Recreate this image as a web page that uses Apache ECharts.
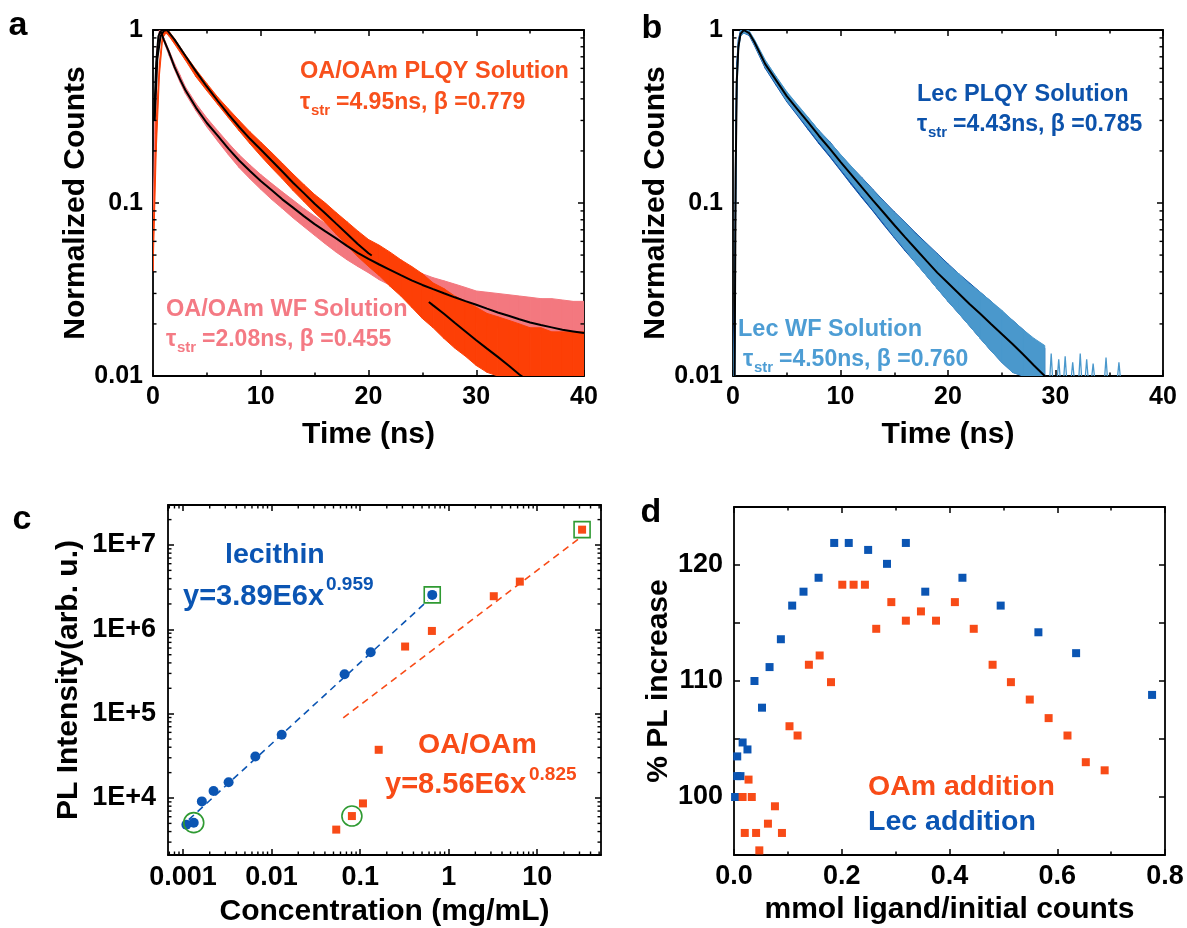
<!DOCTYPE html>
<html><head><meta charset="utf-8">
<script src="https://cdn.jsdelivr.net/npm/echarts@6/dist/echarts.min.js"></script>
<style>html,body{margin:0;padding:0;background:#fff}#c{width:1187px;height:928px}</style>
</head><body><div id="c"></div>
<script>
// ===== Panel a : OA/OAm (time in ns, normalized counts) =====
const aPlqyT  = [0,0.3,0.6,0.9,1.2,1.5,2,3,4,5,6,7,8,9,10,11,12,13,14,15,16,17,18,19,20,21,22,23,24,25,26,27,28,29,30,31,32,33,34,35,36,37,38,39,40];
const aPlqyHi = [0.06,0.3,0.65,0.96,1.0,0.98,0.89,0.72,0.59,0.49,0.41,0.35,0.30,0.258,0.225,0.196,0.17,0.147,0.128,0.112,0.100,0.088,0.078,0.069,0.0615,0.057,0.052,0.047,0.043,0.039,0.0345,0.032,0.029,0.027,0.025,0.023,0.022,0.021,0.02,0.019,0.019,0.018,0.018,0.018,0.018];
const aPlqyLo = [0.04,0.2,0.55,0.9,0.96,0.92,0.83,0.67,0.535,0.445,0.372,0.311,0.261,0.22,0.187,0.16,0.138,0.118,0.102,0.088,0.077,0.066,0.057,0.049,0.043,0.038,0.033,0.029,0.025,0.0215,0.019,0.0165,0.0145,0.013,0.0115,0.0105,0.01,0.01,0.01,0.01,0.01,0.01,0.01,0.01,0.01];
const aPlqyFitT = [0.15,0.4,0.7,1.0,1.3,2,3,4,5,6,7,8,9,10,11,12,13,14,15,16,17,18,19,20,20.3,23,25.6,26,27,28,29,30,31,32,33,34,34.3];
const aPlqyFitV = [0.3,0.68,0.92,0.99,1.0,0.88,0.71,0.575,0.47,0.39,0.325,0.275,0.235,0.204,0.176,0.152,0.131,0.114,0.099,0.087,0.076,0.0665,0.058,0.0512,0.0497,null,0.0268,0.0256,0.0229,0.0203,0.0181,0.0161,0.0144,0.0129,0.0115,0.0102,0.0099];
const aWfT  = [0,0.2,0.4,0.6,0.8,1,1.5,2,2.5,3,4,5,6,7,8,9,10,11,12,13,14,15,16,17,18,19,20,21,22,23,24,25,26,27,28,29,30,31,32,33,34,35,36,37,38,39,40];
const aWfHi = [0.07,0.35,0.8,1.0,0.97,0.9,0.76,0.64,0.55,0.47,0.375,0.31,0.262,0.222,0.19,0.166,0.146,0.13,0.116,0.104,0.093,0.084,0.076,0.069,0.063,0.058,0.054,0.05,0.047,0.044,0.041,0.039,0.037,0.0355,0.034,0.0325,0.031,0.0305,0.03,0.0295,0.029,0.0285,0.028,0.028,0.0275,0.027,0.027];
const aWfLo = [0.04,0.25,0.65,0.92,0.93,0.86,0.71,0.59,0.5,0.43,0.34,0.275,0.228,0.19,0.16,0.138,0.12,0.105,0.093,0.082,0.073,0.065,0.058,0.052,0.047,0.043,0.0395,0.036,0.0335,0.031,0.029,0.027,0.0255,0.024,0.023,0.0215,0.0205,0.0195,0.019,0.0185,0.018,0.0178,0.0175,0.0172,0.017,0.0168,0.0165];
const aWfFitT = [0.1,0.3,0.5,0.7,1.0,1.5,2,2.5,3,4,5,6,7,8,9,10,11,12,13,14,15,16,17,18,19,20,21,22,23,24,25,26,27,28,29,30,31,32,33,34,35,36,37,38,39,40];
const aWfFitV = [0.3,0.65,0.92,0.99,0.88,0.74,0.61,0.52,0.45,0.355,0.29,0.245,0.206,0.176,0.153,0.134,0.119,0.105,0.094,0.084,0.0755,0.0686,0.0625,0.0565,0.0515,0.0475,0.0441,0.0411,0.0383,0.0357,0.0336,0.0318,0.0301,0.0285,0.0271,0.0258,0.0245,0.0233,0.0223,0.0213,0.0204,0.0197,0.0191,0.0185,0.0181,0.0177];

// ===== Panel b : Lecithin =====
const bT      = [0,0.15,0.25,0.35,0.5,0.7,1.0,1.5,2,3,4,5,6,7,8,9,10,11,12,13,14,15,16,17,18,19,20,21,22,23,24,25,26,27,28,29];
const bWfHi   = [0.01,0.02,0.25,0.6,0.85,0.99,1.0,0.99,0.88,0.67,0.54,0.44,0.37,0.312,0.262,0.224,0.191,0.163,0.139,0.119,0.102,0.088,0.077,0.066,0.058,0.0505,0.044,0.039,0.034,0.0305,0.027,0.024,0.021,0.0185,0.0165,0.015];
const bWfLo   = [0.01,0.01,0.1,0.4,0.75,0.92,0.96,0.94,0.82,0.61,0.49,0.39,0.326,0.272,0.226,0.19,0.158,0.132,0.11,0.092,0.077,0.064,0.054,0.045,0.038,0.032,0.027,0.023,0.0195,0.0165,0.014,0.012,0.0105,0.01,0.01,0.01];
const bPlqyHi = [0.01,0.03,0.3,0.65,0.88,1.0,1.0,0.97,0.86,0.66,0.535,0.435,0.365,0.31,0.262,0.226,0.19,0.162,0.14,0.12,0.103,0.089,0.0775,0.067,0.0585,0.051,0.0445,0.039,0.0345,0.0305,0.027,0.0235,0.021,0.0185,0.016,0.0145];
const bPlqyLo = [0.01,0.01,0.12,0.45,0.78,0.93,0.96,0.93,0.81,0.6,0.48,0.385,0.32,0.265,0.22,0.185,0.154,0.128,0.107,0.09,0.075,0.063,0.053,0.045,0.038,0.032,0.027,0.023,0.0195,0.0165,0.014,0.012,0.0105,0.01,0.01,0.01];
const bFitT = [0.15,0.25,0.35,0.5,0.7,1.0,1.5,2,3,4,5,6,7,8,9,10,11,12,13,14,15,16,17,18,19,20,21,22,23,24,25,26,27,28,29,29.3];
const bFitV = [0.01,0.15,0.5,0.8,0.95,1.0,0.96,0.85,0.635,0.513,0.415,0.348,0.292,0.244,0.206,0.173,0.146,0.123,0.104,0.0881,0.0746,0.0635,0.0542,0.0463,0.0396,0.0345,0.030,0.0261,0.0229,0.020,0.0175,0.0153,0.0133,0.0115,0.01,0.0096];
const bTailT = [29.6,30.3,30.9,31.6,32.3,32.9,33.5,34.7,35.9];
const bTailV = [0.0135,0.0125,0.013,0.012,0.0135,0.0125,0.0118,0.0128,0.012];

// ===== Panel c : PL intensity vs concentration =====
const lecConc = [0.00109,0.00132,0.00163,0.00221,0.00327,0.00655,0.0130,0.0667,0.1315,0.652];
const lecPL   = [4830,5100,9120,12100,15400,31100,56200,294000,536000,2560000];
const oaConc  = [0.0537,0.0807,0.1076,0.162,0.322,0.646,3.23,6.36,32.1];
const oaPL    = [4220,6110,8630,37300,625000,957000,2470000,3680000,15200000];
const lecFitConc = [0.00116,0.582], lecFitPL = [5530,2190000];
const oaFitConc  = [0.0644,29.2],   oaFitPL  = [89000,11800000];
const circledConc = [0.00132,0.0807], circledPL = [5100,6110];
const boxedConc   = [0.652,32.1],     boxedPL   = [2560000,15200000];
const cXTickLabels = ['0.001','0.01','0.1','1','10'];   // 10^-3 .. 10^1
const cYTickLabels = ['1E+4','1E+5','1E+6','1E+7'];     // 10^4 .. 10^7
const abYTickLabels = ['0.01','0.1','1'];               // 10^-2 .. 10^0

// ===== Panel d : % PL increase vs ligand =====
const lecAddX = [0.002,0.006,0.012,0.006,0.016,0.025,0.038,0.052,0.066,0.087,0.108,0.129,0.157,0.186,0.213,0.249,0.284,0.319,0.355,0.424,0.495,0.565,0.635,0.776];
const lecAddY = [100.0,101.8,101.8,103.5,104.7,104.1,110.0,107.7,111.2,113.6,116.5,117.7,118.9,121.9,121.9,121.3,120.1,121.9,117.7,118.9,116.5,114.2,112.4,108.8];
const oamAddX = [0.016,0.033,0.027,0.020,0.041,0.047,0.063,0.076,0.089,0.103,0.118,0.139,0.159,0.180,0.201,0.222,0.243,0.264,0.292,0.319,0.347,0.375,0.410,0.445,0.480,0.514,0.549,0.584,0.619,0.653,0.688];
const oamAddY = [100.0,100.0,101.5,96.9,96.9,95.4,97.7,99.2,96.9,106.1,105.3,111.4,112.2,109.9,118.3,118.3,118.3,114.5,116.8,115.2,116.0,115.2,116.8,114.5,111.4,109.9,108.4,106.8,105.3,103.0,102.3];

// ---------- styling ----------
const FONT = '"Liberation Sans", Arial, Helvetica, sans-serif';
const C_RED = '#fd3f06', C_PINK = '#f3787f', C_DBLUE = '#0d4fa6', C_LBLUE = '#4a98cc';
const T_RED = '#f8501c', T_PINK = '#f47a84', T_DBLUE = '#0c52ab', T_LBLUE = '#4d9dd4';
const D_BLUE = '#0b55b3', D_RED = '#f84b17', GREEN = '#2f9a32';
const AB_Y = [0.01, 1], C_X = [6.76e-4, 52.5], C_Y = [2110, 2.98e7];

const grids = [
  {left:153, top:30, width:431, height:346},
  {left:733, top:30, width:430, height:346},
  {left:168, top:505, width:433, height:350},
  {left:734, top:507, width:431, height:348}
];

function logLabel(labels, base) {
  return function (v) {
    const l = Math.log10(v), k = Math.round(l);
    if (Math.abs(l - k) > 1e-6) return '';
    return labels[k - base] || '';
  };
}
function mkAxis(gi, pos, type, min, max, o) {
  o = o || {};
  const ax = {
    gridIndex: gi, position: pos, type: type, min: min, max: max,
    axisLine: {show: true, onZero: false, lineStyle: {color: '#000', width: 1.8}},
    axisTick: {show: true, inside: true, length: 6, lineStyle: {color: '#000', width: 1.5}},
    minorTick: o.minor ? {show: true, splitNumber: o.minor, length: 3.5, lineStyle: {color: '#000', width: 1.5}} : {show: false},
    splitLine: {show: false},
    axisLabel: o.label ? Object.assign({show: true, color: '#000', fontFamily: FONT, fontWeight: 'bold',
      fontSize: o.fs || 25, margin: o.margin || 10, showMinLabel: o.showEnds !== false, showMaxLabel: o.showEnds !== false}, o.label) : {show: false}
  };
  if (o.interval) ax.interval = o.interval;
  if (type === 'log') ax.logBase = 10;
  if (o.name) {
    ax.name = o.name; ax.nameLocation = 'middle'; ax.nameGap = o.nameGap;
    ax.nameTextStyle = {color: '#000', fontFamily: FONT, fontWeight: 'bold', fontSize: 30};
  }
  return ax;
}
// axis index = 2*panel (bottom / left) and 2*panel+1 (top / right mirror)
const xAxes = [
  mkAxis(0,'bottom','value',0,40,{interval:10, minor:2, name:'Time (ns)', nameGap:44, label:{}, margin:9}),
  mkAxis(0,'top','value',0,40,{interval:10, minor:2}),
  mkAxis(1,'bottom','value',0,40,{interval:10, minor:2, name:'Time (ns)', nameGap:44, label:{}, margin:9}),
  mkAxis(1,'top','value',0,40,{interval:10, minor:2}),
  mkAxis(2,'bottom','log',C_X[0],C_X[1],{name:'Concentration (mg/mL)', nameGap:42, fs:27, margin:9, showEnds:false, label:{formatter: logLabel(cXTickLabels,-3)}}),
  mkAxis(2,'top','log',C_X[0],C_X[1],{}),
  mkAxis(3,'bottom','value',0,0.8,{interval:0.2, minor:2, name:'mmol ligand/initial counts', nameGap:40, fs:27, margin:8, label:{formatter: v => v.toFixed(1)}}),
  mkAxis(3,'top','value',0,0.8,{interval:0.2, minor:2})
];
const yAxes = [
  mkAxis(0,'left','log',AB_Y[0],AB_Y[1],{name:'Normalized Counts', nameGap:56, label:{formatter: logLabel(abYTickLabels,-2)}}),
  mkAxis(0,'right','log',AB_Y[0],AB_Y[1],{}),
  mkAxis(1,'left','log',AB_Y[0],AB_Y[1],{name:'Normalized Counts', nameGap:60, label:{formatter: logLabel(abYTickLabels,-2)}}),
  mkAxis(1,'right','log',AB_Y[0],AB_Y[1],{}),
  mkAxis(2,'left','log',C_Y[0],C_Y[1],{name:'PL Intensity(arb. u.)', nameGap:84, fs:27, margin:12, showEnds:false, label:{formatter: logLabel(cYTickLabels,4)}}),
  mkAxis(2,'right','log',C_Y[0],C_Y[1],{}),
  mkAxis(3,'left','value',95,125,{interval:5, name:'% PL increase', nameGap:60, fs:27, margin:11, label:{formatter: v => (v % 10 === 0 ? String(v) : '')}}),
  mkAxis(3,'right','value',95,125,{interval:5})
];

// ---------- series helpers (p = panel index) ----------
function bandSeries(p, T, HI, LO, color) {
  return {
    type: 'custom', xAxisIndex: 2 * p, yAxisIndex: 2 * p, silent: true, clip: true, z: 2,
    data: T.map((t, i) => [t, HI[i], LO[i]]),
    encode: {x: 0, y: [1, 2]},
    renderItem: function (params, api) {
      const i = params.dataIndex;
      if (i >= T.length - 1) return {type: 'group', children: []};
      const pts = [api.coord([T[i], HI[i]]), api.coord([T[i + 1], HI[i + 1]]),
                   api.coord([T[i + 1], LO[i + 1]]), api.coord([T[i], LO[i]])];
      return {type: 'polygon', shape: {points: pts}, style: {fill: color, stroke: color, lineWidth: 1}};
    }
  };
}
function lineSeries(p, X, Y, color, width, dash) {
  return {
    type: 'line', xAxisIndex: 2 * p, yAxisIndex: 2 * p, silent: true, showSymbol: false, symbol: 'none',
    connectNulls: false, z: 3, animation: false,
    data: X.map((x, i) => (x === null || Y[i] === null) ? ['-', '-'] : [x, Y[i]]),
    lineStyle: {color: color, width: width, type: dash || 'solid', opacity: 1}
  };
}
function scatterSeries(p, X, Y, symbol, size, color, hollow) {
  return {
    type: 'scatter', xAxisIndex: 2 * p, yAxisIndex: 2 * p, silent: true, z: 4,
    symbol: symbol, symbolSize: size,
    data: X.map((x, i) => [x, Y[i]]),
    itemStyle: hollow ? {color: 'rgba(0,0,0,0)', borderColor: color, borderWidth: 1.6, opacity: 1}
                      : {color: color, opacity: 1}
  };
}
function logMinorValues(lo, hi) {
  const out = [];
  for (let k = Math.floor(Math.log10(lo)); k <= Math.ceil(Math.log10(hi)); k++)
    for (let m = 2; m <= 9; m++) { const v = m * Math.pow(10, k); if (v > lo && v < hi) out.push(v); }
  return out;
}
// minor ticks of a log axis, drawn on both sides of the frame through the axis scales
function logMinorTicks(p, dir, otherLo, otherHi, lo, hi) {
  const vals = logMinorValues(lo, hi);
  return {
    type: 'custom', xAxisIndex: 2 * p, yAxisIndex: 2 * p, silent: true, z: 6,
    data: vals.map(v => dir === 'y' ? [otherLo, v] : [v, otherLo]),
    encode: {x: 0, y: 1},
    renderItem: function (params, api) {
      const v = vals[params.dataIndex], L = 3.5, st = {stroke: '#000', lineWidth: 1.4};
      if (dir === 'y') {
        const a = api.coord([otherLo, v]), b = api.coord([otherHi, v]);
        return {type: 'group', children: [
          {type: 'line', shape: {x1: a[0], y1: a[1], x2: a[0] + L, y2: a[1]}, style: st},
          {type: 'line', shape: {x1: b[0], y1: b[1], x2: b[0] - L, y2: b[1]}, style: st}]};
      }
      const a = api.coord([v, otherLo]), b = api.coord([v, otherHi]);
      return {type: 'group', children: [
        {type: 'line', shape: {x1: a[0], y1: a[1], x2: a[0], y2: a[1] - L}, style: st},
        {type: 'line', shape: {x1: b[0], y1: b[1], x2: b[0], y2: b[1] + L}, style: st}]};
    }
  };
}

// tail spikes of panel b (each read individually)
const bTailX = [], bTailY = [];
bTailT.forEach((t, i) => { bTailX.push(t - 0.12, t, t + 0.12, null); bTailY.push(0.01, bTailV[i], 0.01, null); });

const series = [
  // panel a
  bandSeries(0, aWfT, aWfHi, aWfLo, C_PINK),
  bandSeries(0, aPlqyT, aPlqyHi, aPlqyLo, C_RED),
  lineSeries(0, aPlqyFitT, aPlqyFitV, '#000', 2),
  lineSeries(0, aWfFitT, aWfFitV, '#000', 2),
  logMinorTicks(0, 'y', 0, 40, AB_Y[0], AB_Y[1]),
  // panel b
  bandSeries(1, bT, bPlqyHi, bPlqyLo, C_DBLUE),
  bandSeries(1, bT, bWfHi, bWfLo, C_LBLUE),
  lineSeries(1, bTailX, bTailY, C_LBLUE, 1.3),
  lineSeries(1, bFitT, bFitV, '#000', 2),
  logMinorTicks(1, 'y', 0, 40, AB_Y[0], AB_Y[1]),
  // panel c
  lineSeries(2, lecFitConc, lecFitPL, D_BLUE, 1.6, [7, 5]),
  lineSeries(2, oaFitConc, oaFitPL, D_RED, 1.6, [7, 5]),
  scatterSeries(2, lecConc, lecPL, 'circle', 10, D_BLUE),
  scatterSeries(2, oaConc, oaPL, 'rect', 8, D_RED),
  scatterSeries(2, circledConc, circledPL, 'circle', 20, GREEN, true),
  scatterSeries(2, boxedConc, boxedPL, 'rect', 16, GREEN, true),
  logMinorTicks(2, 'y', C_X[0], C_X[1], C_Y[0], C_Y[1]),
  logMinorTicks(2, 'x', C_Y[0], C_Y[1], C_X[0], C_X[1]),
  // panel d
  scatterSeries(3, lecAddX, lecAddY, 'rect', 8, D_BLUE),
  scatterSeries(3, oamAddX, oamAddY, 'rect', 8, D_RED)
];

// ---------- text annotations ----------
function txt(x, y, s, size, color, align) {
  return {type: 'text', x: x, y: y, silent: true, z: 100,
    style: {text: s, fill: color, font: 'bold ' + size + 'px ' + FONT, textAlign: align || 'left', textVerticalAlign: 'middle', verticalAlign: 'middle'}};
}
function tau(x, y, rest, color, restX) {
  return [txt(x, y, 'τ', 23, color), txt(x + 11, y + 8, 'str', 15, color), txt(restX, y, rest, 23, color)];
}
const graphics = [
  txt(18, 26, 'a', 34, '#000', 'center'), txt(652, 29, 'b', 34, '#000', 'center'),
  txt(22, 520, 'c', 34, '#000', 'center'), txt(651, 513, 'd', 34, '#000', 'center'),
  txt(300, 72, 'OA/OAm PLQY Solution', 23.5, T_RED),
  ...tau(300, 103, '=4.95ns, β =0.779', T_RED, 336),
  txt(166, 310, 'OA/OAm WF Solution', 23.5, T_PINK),
  ...tau(166, 340, '=2.08ns, β =0.455', T_PINK, 202),
  txt(917, 95, 'Lec PLQY Solution', 23.5, T_DBLUE),
  ...tau(917, 125, '=4.43ns, β =0.785', T_DBLUE, 953),
  txt(738, 330, 'Lec WF Solution', 23.5, T_LBLUE),
  ...tau(743, 360, '=4.50ns, β =0.760', T_LBLUE, 779),
  txt(225, 555, 'lecithin', 28.5, D_BLUE),
  txt(183, 597, 'y=3.89E6x', 29, D_BLUE), txt(326, 585, '0.959', 19, D_BLUE),
  txt(418, 745, 'OA/OAm', 28.5, D_RED),
  txt(385, 785, 'y=8.56E6x', 29, D_RED), txt(529, 775, '0.825', 19, D_RED),
  txt(868, 787, 'OAm addition', 28.5, D_RED),
  txt(868, 822, 'Lec addition', 28.5, D_BLUE)
];

const chart = echarts.init(document.getElementById('c'), null, {renderer: 'canvas'});
chart.setOption({
  backgroundColor: '#fff', animation: false,
  grid: grids, xAxis: xAxes, yAxis: yAxes, series: series, graphic: graphics
});
</script></body></html>
